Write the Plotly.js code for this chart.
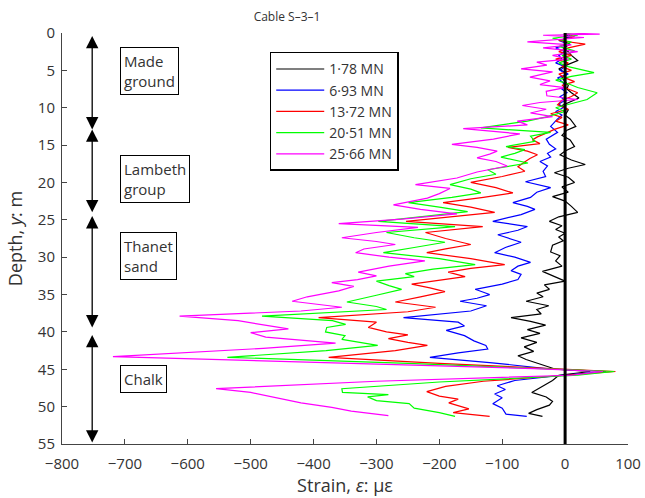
<!DOCTYPE html>
<html>
<head>
<meta charset="utf-8">
<script src="https://cdn.plot.ly/plotly-3.0.1.min.js"></script>
<style>html,body{margin:0;padding:0;background:#fff;}#chart{width:645px;height:498px;}</style>
</head>
<body>
<div id="chart"></div>
<script>
// ---- data ----
const seriesNames = ["1·78 MN", "6·93 MN", "13·72 MN", "20·51 MN", "25·66 MN"];
const seriesColors = ["#000000", "#0000ff", "#ff0000", "#00ff00", "#ff00ff"];

const depth1 = [0,0.5,1,1.5,2,2.5,3,3.7,4.2,4.8,5.5,6,6.5,7,7.5,8,8.7,9.2,9.7,10.3,11,11.5,12.5,13,13.7,14.3,15.2,15.8,16.3,17,17.6,18.1,18.7,19.3,20,20.6,21.3,21.9,22.5,23.2,24,24.6,25.2,25.8,26.3,26.8,27.3,27.8,28.4,29.3,29.8,30.5,31.2,31.9,32.5,33.2,33.7,34.3,34.8,35.3,35.9,36.5,37,37.6,38.1,38.6,39.1,39.7,40.2,40.8,41.4,42,42.6,43.2,43.7,44.3,45,45.3,45.8,46.5,47.2,48.1,48.7,49.3,49.8,50.4,50.9,51.3];
const strain1 = [0,5,-5,8,-3,5,10,20,5,-10,3,-5,0,5,3,10,22,8,-5,5,0,8,17,3,-5,8,15,0,-8,10,32,5,-17,5,15,-5,5,-20,0,10,20,-10,-25,-5,-15,0,-10,-3,-20,-23,-8,-15,-5,-36,-20,0,-33,-25,-45,-35,-62,-26,-45,-38,-86,-55,-31,-60,-40,-70,-45,-65,-50,-75,-62,-40,-15,40,-10,-20,-35,-53,-30,-20,-25,-45,-58,-36];

const depth2 = [0,0.5,1,1.5,2,2.5,3,3.5,4,4.5,5,5.5,6,6.5,7,7.5,8,8.5,9,9.5,10,10.5,11,11.5,12.5,13.3,14.2,14.9,15.5,16.1,16.6,17.2,17.8,18.5,19.2,19.9,20.7,21.3,22,22.7,23.2,23.6,24.3,25.2,25.9,26.4,27,27.6,28,28.7,29.4,30,30.7,31.2,31.8,32.3,33,33.6,34.3,35,35.5,35.9,36.5,37.2,38.1,38.7,39.2,39.8,40.5,41.2,41.8,42.3,42.8,43.4,44.1,44.9,45.3,45.8,46.5,47.2,47.7,48.3,48.8,49.6,50.2,51,51.3];
const strain2 = [0,10,-10,5,-15,0,-10,-5,-15,0,-8,5,-12,-5,0,-5,3,-8,0,-10,-3,-15,-5,-12,-23,-12,-30,-25,-15,-28,-23,-40,-28,-35,-31,-63,-23,-45,-55,-83,-60,-48,-70,-115,-60,-75,-107,-85,-70,-95,-112,-80,-55,-75,-86,-70,-75,-100,-143,-120,-140,-167,-125,-150,-257,-170,-160,-189,-160,-145,-126,-123,-170,-215,-120,-30,65,-5,-80,-108,-95,-112,-100,-115,-100,-94,-61];

const depth3 = [0,0.5,1,1.5,2,2.5,3,3.5,4,4.5,5,5.5,6,6.5,7,7.5,8,8.5,9,9.6,10.2,10.8,11.3,11.8,12.3,12.9,13.4,13.9,14.3,14.8,15.3,15.8,16.3,16.8,17.3,17.9,18.5,19.2,20,20.7,21.4,22,22.7,23.3,24,24.6,25.2,25.9,26.3,26.7,27.5,28.3,28.9,29.4,30.2,31,31.5,32,32.6,33.1,33.6,34.1,34.6,35.3,36,36.7,37.3,38.1,38.7,39.4,40,40.4,40.9,41.4,41.8,42.5,43.4,44.2,44.9,45.3,45.8,46.6,47.3,48,48.6,49,49.5,50,50.3,50.8,51.3];
const strain3 = [0,15,-10,32,5,-10,10,-15,5,-5,10,-10,0,15,-5,5,20,10,-5,-12,5,-23,-5,-15,5,-17,-30,-44,-52,-40,-91,-60,-44,-56,-65,-75,-64,-100,-150,-110,-83,-130,-194,-150,-112,-180,-253,-131,-180,-222,-190,-150,-190,-220,-150,-96,-150,-186,-159,-200,-244,-215,-191,-230,-270,-206,-250,-392,-300,-313,-284,-250,-281,-250,-219,-270,-376,-200,-30,80,0,-130,-190,-220,-200,-170,-185,-165,-153,-178,-120];

const depth4 = [0,0.3,0.7,1.2,1.8,2.4,3,3.5,4,4.5,5.3,5.8,6.3,6.8,7.3,8,8.9,9.4,10,10.5,11.2,11.8,12.7,13.3,13.8,14.5,15.2,15.6,16.1,16.6,17.4,18.3,18.9,19.5,20.3,20.9,21.4,22,22.7,23.3,23.9,24.5,25.2,25.9,26.3,26.7,27.4,28,28.7,29.4,30.2,31,31.6,32.2,32.6,33.2,33.8,34.3,35.1,36,36.6,37,37.9,38.5,39,39.4,40,40.5,41,41.8,42.5,43.4,44.2,44.9,45.3,45.8,46.7,47.6,48.1,48.4,48.7,49.2,49.6,50.2,50.8,51.3];
const strain4 = [0,20,-20,10,-10,15,-5,10,-10,5,46,10,-15,5,20,51,35,10,-15,0,-28,-60,-134,-23,-55,-48,-94,-64,-80,-102,-59,-123,-110,-150,-183,-150,-134,-180,-249,-200,-155,-220,-297,-175,-230,-284,-240,-191,-240,-289,-200,-143,-210,-254,-240,-300,-280,-260,-300,-347,-300,-284,-482,-370,-349,-379,-381,-350,-355,-298,-380,-537,-250,-40,78,20,-200,-355,-354,-281,-314,-300,-248,-240,-200,-175];

const depth5 = [0,0.15,0.3,0.6,1.2,1.6,2,2.5,3,3.5,3.9,4.3,4.8,5.2,5.9,6.4,6.9,7.3,7.8,8.4,8.9,9.3,9.7,10.2,10.7,11.2,11.8,12.3,12.8,13.5,14.2,14.9,15.3,15.8,16.2,16.7,17.2,17.8,18.6,19.4,20.3,20.8,21.5,22.1,23,23.6,24.2,24.9,25.5,26,26.7,27.4,27.9,28.3,28.9,29.4,30,30.5,31.2,32,32.5,33,33.4,33.9,34.5,35.3,35.9,36.7,37.2,37.9,38.5,39,39.6,40.1,40.7,41.5,42.2,43.3,44.1,44.9,45.3,45.8,46.6,47.6,48.1,48.9,49.5,50.1,50.6,51.2];
const strain5 = [0,55,-35,30,-60,10,-35,20,-20,5,-45,-29,-70,-20,-56,-24,-40,0,-30,-29,20,-40,-68,-30,-55,-20,-76,-60,-162,-72,-114,-180,-140,-108,-120,-140,-110,-92,-140,-172,-238,-183,-200,-219,-273,-230,-172,-260,-360,-234,-300,-355,-300,-270,-320,-333,-280,-223,-280,-329,-300,-330,-371,-336,-360,-410,-434,-355,-420,-613,-520,-482,-440,-500,-476,-365,-480,-719,-400,-50,60,10,-300,-555,-500,-453,-420,-371,-340,-281];

const allDepths = [depth1, depth2, depth3, depth4, depth5];
const allStrains = [strain1, strain2, strain3, strain4, strain5];

const xTicks = [-800,-700,-600,-500,-400,-300,-200,-100,0,100];
const yTicks = [0,5,10,15,20,25,30,35,40,45,50,55];

const layerNames = ["Made<br>ground", "Lambeth<br>group", "Thanet<br>sand", "Chalk"];
const layerTop = [0.2, 12.7, 24.3, 40.2];
const layerBottom = [12.9, 24.0, 39.4, 54.8];
const layerLabelDepth = [5.1, 19.6, 29.8, 46.3];

// ---- build ----
const FONT = "Open Sans, Noto Sans, sans-serif";
const traces = allDepths.map((d, i) => ({
  x: allStrains[i], y: d, type: "scatter", mode: "lines",
  name: seriesNames[i], line: {color: seriesColors[i], width: 1.2}
}));

const annotations = [];
layerNames.forEach((t, i) => {
  annotations.push({
    x: -752, y: layerBottom[i], ax: -752, ay: layerTop[i],
    xref: "x", yref: "y", axref: "x", ayref: "y",
    text: "", showarrow: true, arrowside: "end+start",
    arrowhead: 2, arrowsize: 1.9, arrowwidth: 1.3, arrowcolor: "#000"
  });
  annotations.push({
    x: -708, y: layerLabelDepth[i], xref: "x", yref: "y",
    xanchor: "left", yanchor: "middle", align: "left",
    text: t, showarrow: false,
    font: {family: FONT, size: 15, color: "#333"},
    bordercolor: "#000", borderwidth: 1, borderpad: 3, bgcolor: "#fff"
  });
});

const layout = {
  width: 645, height: 498,
  margin: {l: 62, r: 17, t: 33, b: 54},
  paper_bgcolor: "#fff", plot_bgcolor: "#fff",
  font: {family: FONT, size: 15, color: "#333"},
  title: {text: "Cable S–3–1", font: {family: FONT, size: 12, color: "#333"},
          x: 0.445, xref: "container", xanchor: "center", y: 0.966, yref: "container", yanchor: "middle"},
  showlegend: true,
  legend: {x: 0.367, y: 0.954, xanchor: "left", yanchor: "top",
           bordercolor: "#000", borderwidth: 1.5, bgcolor: "#fff",
           font: {family: FONT, size: 14, color: "#333"}, itemwidth: 48},
  xaxis: {range: [-800, 100], tickvals: xTicks, ticks: "inside", ticklen: 5,
          ticklabelstandoff: 6,
          showgrid: false, zeroline: false, showline: true, linecolor: "#444", linewidth: 1,
          tickcolor: "#444", title: {text: "Strain, <i>ε</i>: με", standoff: 6}},
  yaxis: {range: [55, 0], tickvals: yTicks, ticks: "inside", ticklen: 5,
          ticklabelstandoff: 3,
          showgrid: false, zeroline: false, showline: true, linecolor: "#444", linewidth: 1,
          tickcolor: "#444", title: {text: "Depth, <i>y</i>: m", standoff: 10}},
  shapes: [{type: "line", xref: "x", yref: "y", x0: 0, x1: 0, y0: 0, y1: 55,
            line: {color: "#000", width: 3}}],
  annotations: annotations
};

Plotly.newPlot("chart", traces, layout, {staticPlot: true});
</script>
</body>
</html>
